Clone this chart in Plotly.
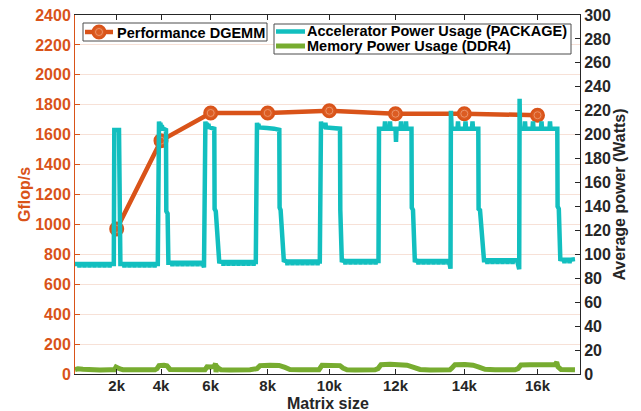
import plotly.graph_objects as go

# ---- DGEMM performance per matrix size ----
size_labels = ["2k", "4k", "6k", "8k", "10k", "12k", "14k", "16k"]
run_time = [41.7, 86.0, 135.7, 192.7, 254.3, 320.5, 389.3, 462.5]   # s, middle of each run
gflops = [970, 1560, 1745, 1745, 1760, 1740, 1740, 1730]

# ---- accelerator package power trace (W) ----
acc_time = [
    0, 4, 4.5, 5, 9, 9.5, 10, 14, 14.5, 15, 19, 19.5, 20, 24, 24.5, 25, 29, 29.5, 30, 34, 34.5, 35, 38.8,
    39.3, 44.0, 44.4, 45.4,
    49, 49.5, 50, 54, 54.5, 55, 59, 59.5, 60, 64, 64.5, 65, 69, 69.5, 70, 74, 74.5, 75, 79, 79.5, 80, 82.8,
    83.3, 84, 84.6, 85.4, 86, 86.8, 87.4, 88.5, 91.0, 91.3, 92.6, 93.4,
    97, 97.5, 98, 102, 102.5, 103, 107, 107.5, 108, 112, 112.5, 113, 117, 117.5, 118, 122, 122.5, 123, 127, 127.5, 128, 129.0,
    129.6, 130.4, 131, 131.8, 132.6, 133.4, 134.2, 135, 139.3, 139.6, 140.8, 144.2,
    148, 148.5, 149, 153, 153.5, 154, 158, 158.5, 159, 163, 163.5, 164, 168, 168.5, 169, 173, 173.5, 174, 178, 178.5, 179, 180.8,
    181.2, 182, 182.6, 183.4, 184, 185, 192, 199, 204.3, 204.6, 205.6, 208.8,
    212, 212.5, 213, 217, 217.5, 218, 222, 222.5, 223, 227, 227.5, 228, 232, 232.5, 233, 237, 237.5, 238, 242, 242.5, 243, 244.8,
    245.2, 246, 246.6, 247.4, 248, 249, 249.6, 250.4, 251, 265.0, 265.3, 266.8,
    270, 270.5, 271, 275, 275.5, 276, 280, 280.5, 281, 285, 285.5, 286, 290, 290.5, 291, 295, 295.5, 296, 300, 300.5, 301, 303.5,
    304.0, 309.5, 310.0, 310.5, 314.5, 315.0, 315.5, 320.5, 321.0, 321.5, 325.5, 326.0, 326.5, 330.5, 331.0, 331.5, 336.5, 336.8, 338.0, 339.8,
    343, 343.5, 344, 348, 348.5, 349, 353, 353.5, 354, 358, 358.5, 359, 363, 363.5, 364, 368, 368.5, 369, 373, 373.5, 374, 375.5,
    375.9, 376.2, 376.6, 382.5, 383, 383.5, 390, 390.5, 391, 397, 397.5, 398, 403.3, 403.6, 405, 409,
    412, 412.5, 413, 417, 417.5, 418, 422, 422.5, 423, 427, 427.5, 428, 432, 432.5, 433, 437, 437.5, 438, 442, 442.5, 443, 444.2,
    444.6, 445.0, 449.5, 450, 450.5, 457.5, 458, 458.5, 466, 466.5, 467, 474.5, 475, 475.5, 482.3, 482.6, 483.8, 485.3,
    489, 489.5, 490, 494, 494.5, 495, 500,
]
acc_watts = [
    92, 92, 89, 92, 92, 89, 92, 92, 89, 92, 92, 89, 92, 92, 89, 92, 92, 89, 92, 92, 89, 92, 92,
    204, 204, 137, 92,
    92, 89, 92, 92, 89, 92, 92, 89, 92, 92, 89, 92, 92, 89, 92, 92, 89, 92, 92, 89, 92, 92,
    209, 211, 205, 210, 205, 208, 205, 205, 204, 136, 134, 93,
    93, 90, 93, 93, 90, 93, 93, 90, 93, 93, 90, 93, 93, 90, 93, 93, 90, 93, 93, 90, 93, 89,
    207, 211, 205, 210, 205, 209, 205, 206, 205, 138, 136, 94,
    93.5, 90.5, 93.5, 93.5, 90.5, 93.5, 93.5, 90.5, 93.5, 93.5, 90.5, 93.5, 93.5, 90.5, 93.5, 93.5, 90.5, 93.5, 93.5, 90.5, 93.5, 93.5,
    207, 210, 206, 209, 206, 206, 205.5, 205, 204, 139, 137, 95,
    94, 91, 94, 94, 91, 94, 94, 91, 94, 94, 91, 94, 94, 91, 94, 94, 91, 94, 94, 91, 94, 94,
    207, 211, 206, 210, 206, 207, 206, 210, 206, 205, 137, 95,
    94.5, 91.5, 94.5, 94.5, 91.5, 94.5, 94.5, 91.5, 94.5, 94.5, 91.5, 94.5, 94.5, 91.5, 94.5, 94.5, 91.5, 94.5, 94.5, 91.5, 94.5, 94.5,
    205, 205, 211, 205, 205, 211, 205, 205, 194, 205, 205, 211, 205, 205, 211, 205, 205, 139, 137, 95,
    94.5, 91.5, 94.5, 94.5, 91.5, 94.5, 94.5, 91.5, 94.5, 94.5, 91.5, 94.5, 94.5, 91.5, 94.5, 94.5, 91.5, 94.5, 94.5, 91.5, 94.5, 88,
    220, 205, 205, 205, 211, 205, 205, 211, 205, 205, 211, 205, 205, 138, 137, 95,
    95, 92, 95, 95, 92, 95, 95, 92, 95, 95, 92, 95, 95, 92, 95, 95, 92, 95, 95, 92, 95, 87.5,
    230, 205, 205, 211, 205, 205, 211, 205, 205, 211, 205, 205, 211, 205, 205, 140, 138, 96,
    95.5, 92.5, 95.5, 95.5, 92.5, 95.5, 96,
]

# ---- DDR4 memory power trace (W) ----
mem_time = [
    0, 3, 8, 15, 25, 35, 39.5, 41, 42.5, 45, 48, 60, 70, 80, 82, 84, 89, 92, 95,
    105, 115, 125, 130, 132, 136, 139.5, 140.5, 141.0, 141.5, 143, 146,
    155, 165, 175, 182, 185, 195, 204, 210, 215, 225, 235, 244, 247, 256, 265, 268, 272,
    280, 290, 300, 303, 306, 315, 325, 332, 338, 345, 355, 365, 375, 377, 380, 390, 398, 404, 410,
    420, 430, 440, 443, 446, 455, 465, 475, 480, 481.7, 483, 486, 490, 495, 500,
]
mem_watts = [
    3.6, 4.3, 4.0, 3.5, 3.4, 3.5, 3.6, 5.8, 5.0, 4.2, 3.6, 3.4, 3.5, 3.5, 4.5, 7.0, 7.2, 6.8, 3.8,
    3.4, 3.3, 3.5, 3.6, 6.0, 5.8, 6.5, 8.8, 1.5, 6.8, 5.0, 3.6,
    3.4, 3.3, 3.5, 4.5, 7.0, 7.4, 7.2, 5.5, 3.8, 3.5, 3.4, 3.6, 7.2, 7.3, 7.0, 5.0, 3.6,
    3.4, 3.4, 3.5, 4.5, 7.8, 8.2, 7.8, 7.4, 5.8, 3.8, 3.4, 3.4, 3.6, 5.0, 7.8, 8.0, 7.4, 5.8, 3.9,
    3.5, 3.4, 3.5, 4.5, 7.6, 7.8, 7.6, 8.0, 8.0, 9.8, 6.0, 3.8, 3.5, 3.4, 3.6,
]

ORANGE = "#D95319"
CYAN = "#12BFBF"
GREEN = "#77AC30"
DARK = "#262626"
FONT = "Liberation Sans, Arial, Helvetica, sans-serif"

# plot-area geometry in pixels (used for the legend boxes and x title)
W, H = 641, 411
ML, MR, MT, MB = 75, 61, 15, 37
PW, PH = W - ML - MR, H - MT - MB


def px(x):
    return (x - ML) / PW


def py(y):
    return 1 - (y - MT) / PH


fig = go.Figure()

fig.add_trace(go.Scatter(
    x=acc_time, y=acc_watts, yaxis="y2", mode="lines",
    name="Accelerator Power Usage (PACKAGE)", showlegend=False,
    line=dict(color=CYAN, width=4.5),
))
fig.add_trace(go.Scatter(
    x=mem_time, y=mem_watts, yaxis="y2", mode="lines",
    name="Memory Power Usage (DDR4)", showlegend=False,
    line=dict(color=GREEN, width=5),
))
fig.add_trace(go.Scatter(
    x=run_time, y=gflops, mode="lines+markers",
    name="Performance DGEMM", showlegend=False,
    line=dict(color=ORANGE, width=4.5),
    marker=dict(symbol="circle", size=13, color="#DC5C22", line=dict(color=ORANGE, width=2)),
))
# lighter inner ring of the performance markers
fig.add_trace(go.Scatter(
    x=run_time, y=gflops, mode="markers", showlegend=False, hoverinfo="skip",
    marker=dict(symbol="circle-open", size=7, color="#EC9268", line=dict(width=1)),
))

# ---- legend boxes (two boxes, compact rows) ----
legend_font = dict(family=FONT, size=14.5, color="black", weight="bold")
axis_font = dict(family=FONT, size=16, color=DARK, weight="bold")
BOX = "#4D4D4D"
shapes = [
    dict(type="rect", xref="paper", yref="paper", x0=px(83), x1=px(267), y0=py(41), y1=py(23),
         line=dict(color=BOX, width=1), fillcolor="white", layer="above"),
    dict(type="line", xref="paper", yref="paper", x0=px(85), x1=px(113), y0=py(32), y1=py(32),
         line=dict(color=ORANGE, width=4.5), layer="above"),
    dict(type="circle", xref="paper", yref="paper", x0=px(92.5), x1=px(105.5), y0=py(38.5), y1=py(25.5),
         line=dict(color=ORANGE, width=2), fillcolor="#DC5C22", layer="above"),
    dict(type="circle", xref="paper", yref="paper", x0=px(95.5), x1=px(102.5), y0=py(35.5), y1=py(28.5),
         line=dict(color="#EC9268", width=1), layer="above"),
    dict(type="rect", xref="paper", yref="paper", x0=px(274), x1=px(571), y0=py(54), y1=py(24),
         line=dict(color=BOX, width=1), fillcolor="white", layer="above"),
    dict(type="line", xref="paper", yref="paper", x0=px(276), x1=px(305), y0=py(31.5), y1=py(31.5),
         line=dict(color=CYAN, width=4.5), layer="above"),
    dict(type="line", xref="paper", yref="paper", x0=px(276), x1=px(305), y0=py(46), y1=py(46),
         line=dict(color=GREEN, width=5), layer="above"),
]
annotations = [
    dict(text="Performance DGEMM", xref="paper", yref="paper", x=px(114.5), y=py(32.5),
         xanchor="left", yanchor="middle", showarrow=False, font=legend_font),
    dict(text="Accelerator Power Usage (PACKAGE)", xref="paper", yref="paper", x=px(305), y=py(31.5),
         xanchor="left", yanchor="middle", showarrow=False, font=legend_font),
    dict(text="Memory Power Usage (DDR4)", xref="paper", yref="paper", x=px(305), y=py(46),
         xanchor="left", yanchor="middle", showarrow=False, font=legend_font),
    # x-axis title
    dict(text="Matrix size", xref="paper", yref="paper", x=0.5, y=py(403.5),
         xanchor="center", yanchor="middle", showarrow=False, font=axis_font),
]

fig.update_layout(
    width=W, height=H,
    margin=dict(l=ML, r=MR, t=MT, b=MB),
    paper_bgcolor="white", plot_bgcolor="white",
    font=dict(family=FONT, color=DARK, weight="bold"),
    showlegend=False,
    shapes=shapes, annotations=annotations,
    xaxis=dict(
        range=[0, 505], tickmode="array", tickvals=run_time, ticktext=size_labels,
        ticks="inside", ticklen=5, tickcolor=DARK, showline=True, linecolor=DARK, linewidth=1,
        mirror="ticks", showgrid=False, zeroline=False, automargin=False,
        ticklabelstandoff=-2,
        tickfont=dict(family=FONT, size=15, color=DARK, weight="bold"),
    ),
    yaxis=dict(
        range=[0, 2400], tickmode="linear", tick0=0, dtick=200,
        ticks="inside", ticklen=5, tickcolor=ORANGE, showline=True, linecolor=ORANGE, linewidth=1,
        showgrid=True, gridcolor="#F7E1D7", gridwidth=1, zeroline=False, automargin=False,
        tickfont=dict(family=FONT, size=16, color=ORANGE, weight="bold"),
        title=dict(text="Gflop/s", font=dict(family=FONT, size=16, color=ORANGE, weight="bold"), standoff=0),
    ),
    yaxis2=dict(
        range=[0, 300], tickmode="linear", tick0=0, dtick=20, overlaying="y", side="right",
        ticks="inside", ticklen=5, tickcolor=DARK, showline=True, linecolor=DARK, linewidth=1,
        showgrid=False, zeroline=False, tickfont=axis_font, automargin=False,
        title=dict(text="Average power (Watts)", font=axis_font, standoff=0),
    ),
)

fig.write_html("out.html")
